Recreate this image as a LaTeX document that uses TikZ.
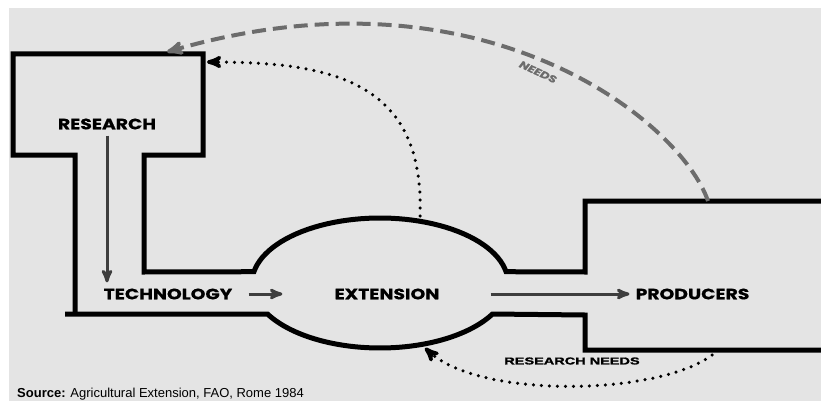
\documentclass[tikz,border=0pt]{standalone}
\usepackage{fontspec}
\setmainfont{Liberation Sans}
\newfontfamily\lblfont[FakeStretch=1.25,FakeBold=0.6]{Poppins}
\newfontfamily\heavyfont[FakeStretch=1.45,FakeBold=1.4]{Liberation Sans}
\usepackage{tikz}
\usetikzlibrary{calc,positioning,arrows}
\definecolor{bggray}{RGB}{228,228,228}
\definecolor{flowgray}{RGB}{62,62,62}
\definecolor{needgray}{RGB}{108,108,108}
\tikzset{
>=stealth',
  outline/.style={draw=black, line width=5pt, line join=miter},
  label/.style={font=\lblfont\bfseries\fontsize{15}{15}\selectfont, inner sep=0pt},
  flow/.style={draw=flowgray, line width=3pt, ->},
  needs/.style={draw=needgray, line width=4pt, dash pattern=on 14pt off 7pt, ->},
  feedback/.style={draw=black, line width=3.5pt, line cap=round,
    dash pattern=on 0pt off 8pt, ->},
}

\begin{document}
\begin{tikzpicture}[x=1pt,y=-1pt]
  \useasboundingbox (0,0) rectangle (821,401);
  \fill[bggray] (9,8) rectangle (821,401);
  \draw[outline] (821,201) -- (585,201) -- (585,272)
    -- plot[domain=10:170,samples=50] ({380+128*cos(\x)},{283-65*sin(\x)})
    -- (144,272) -- (144,155) -- (203,155) -- (203,54) -- (13,54)
    -- (13,155) -- (75,155) -- (75,314);
  \draw[outline] (65,314) -- (267.5,314)
    -- plot[domain=208.5:331.5,samples=50] ({380+128*cos(\x)},{283-65*sin(\x)})
    -- (585,315) -- (585,350) -- (821,350);
  \coordinate (prodtop) at (708,201);
  \coordinate (restop) at (167,52);
  \coordinate (exttop) at (420,216);
  \coordinate (resright) at (207,62);
  \coordinate (prodbottom) at (712,355);
  \coordinate (extbottom) at (425,348);
  \node[label] (research) at (107,124) {RESEARCH};
  \node[label] (technology) at (168,294) {TECHNOLOGY};
  \node[label] (extension) at (387,294) {EXTENSION};
  \node[label] (producers) at (692.5,294) {PRODUCERS};
  \node[font=\heavyfont\bfseries\fontsize{10}{10}\selectfont, inner sep=0pt]
    (researchneeds) at (572,361) {RESEARCH NEEDS};
  \node[font=\lblfont\bfseries\itshape\fontsize{10}{10}\selectfont, text=needgray,
    inner sep=0pt, rotate=-25] (needslabel) at (538,72) {NEEDS};
  \node[anchor=base west, inner sep=0pt, font=\fontsize{13}{13}\selectfont]
    (source) at (17,397.5) {\textbf{Source:} Agricultural Extension, FAO, Rome 1984};
  \draw[flow, shorten <=6pt, shorten >=6pt] (research.south) -- (research.south |- technology.north);
  \draw[flow, shorten <=16pt, shorten >=52pt] (technology.east) -- (extension.west);
  \draw[flow, shorten <=51pt, shorten >=6pt] (extension.east) -- (producers.west);
  \draw[needs] (prodtop) .. controls (680,120) and (480,-40) .. (restop);
  \draw[feedback] (exttop) .. controls (425,80) and (330,62) .. (resright);
  \draw[feedback] (prodbottom) .. controls (660,395) and (480,400) .. (extbottom);
\end{tikzpicture}
\end{document}
